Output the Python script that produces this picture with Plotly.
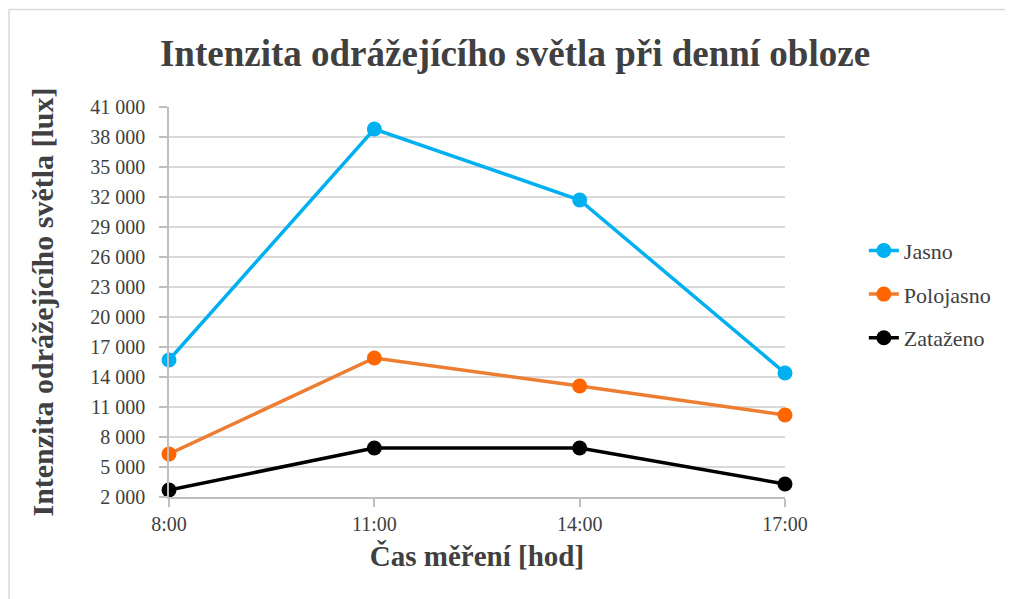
import plotly.graph_objects as go

times = ["8:00", "11:00", "14:00", "17:00"]
jasno = [15700, 38800, 31700, 14400]
polojasno = [6300, 15900, 13100, 10200]
zatazeno = [2700, 6900, 6900, 3300]

series = [
    ("Jasno", jasno, "#00B0F0", "#00B0F0"),
    ("Polojasno", polojasno, "#ED7D31", "#FF6600"),
    ("Zataženo", zatazeno, "#000000", "#000000"),
]

FONT = "Liberation Serif"
TXT = "#404040"

# plot-area geometry (page is offset by the 8px body margin)
W, H = 1013, 599
L, T, PW, PH = 161, 99, 616, 390

fig = go.Figure()
for i, (name, vals, lc, mc) in enumerate(series):
    fig.add_trace(go.Scatter(
        x=times, y=vals, name=name, mode="lines+markers",
        line=dict(color=lc, width=3.5),
        marker=dict(color=mc, size=15),
        cliponaxis=False, legendgroup=f"g{i}",
    ))

fig.update_layout(
    width=W, height=H,
    margin=dict(l=L, r=W - L - PW, t=T, b=H - T - PH),
    paper_bgcolor="white", plot_bgcolor="white",
    separators=", ",
    font=dict(family=FONT, size=20, color=TXT),
    title=dict(text="<b>Intenzita odrážejícího světla při denní obloze</b>",
               x=(515 - 8) / W, xanchor="center", y=1 - (53 - 8) / H, yanchor="middle",
               font=dict(family=FONT, size=37, color=TXT)),
    legend=dict(x=1.128, y=0.52, xanchor="left", yanchor="middle",
                font=dict(family=FONT, size=22, color=TXT),
                tracegroupgap=12, bgcolor="rgba(0,0,0,0)"),
    showlegend=True,
)

fig.update_xaxes(
    type="category", range=[0, 3],
    showline=True, linecolor="#bfbfbf", linewidth=1.5,
    ticks="outside", ticklen=8, tickcolor="#bfbfbf", tickwidth=1.5,
    showgrid=False, zeroline=False,
    tickfont=dict(family=FONT, size=20, color=TXT),
    title=dict(text="<b>Čas měření [hod]</b>", standoff=12,
               font=dict(family=FONT, size=29, color=TXT)),
)
fig.update_yaxes(
    range=[2000, 41000], tick0=2000, dtick=3000, tickformat=",d",
    showline=True, linecolor="#bfbfbf", linewidth=1.5,
    ticks="outside", ticklen=8, tickcolor="#bfbfbf", tickwidth=1.5,
    ticklabelstandoff=10,
    showgrid=True, gridcolor="#d9d9d9", gridwidth=1.5, zeroline=False,
    tickfont=dict(family=FONT, size=20, color=TXT),
    title=dict(text="<b>Intenzita odrážejícího světla [lux]</b>", standoff=28,
               font=dict(family=FONT, size=30, color=TXT)),
)

# chart-area border (only top and left edges fall inside the image)
fig.add_shape(type="rect", xref="paper", yref="paper",
              x0=(1 - L) / PW, x1=(1100 - L) / PW,
              y0=(T + PH - 700) / PH, y1=(T + PH - 1.5) / PH,
              line=dict(color="#d9d9d9", width=1.5), layer="below")

fig.write_html("out.html")
